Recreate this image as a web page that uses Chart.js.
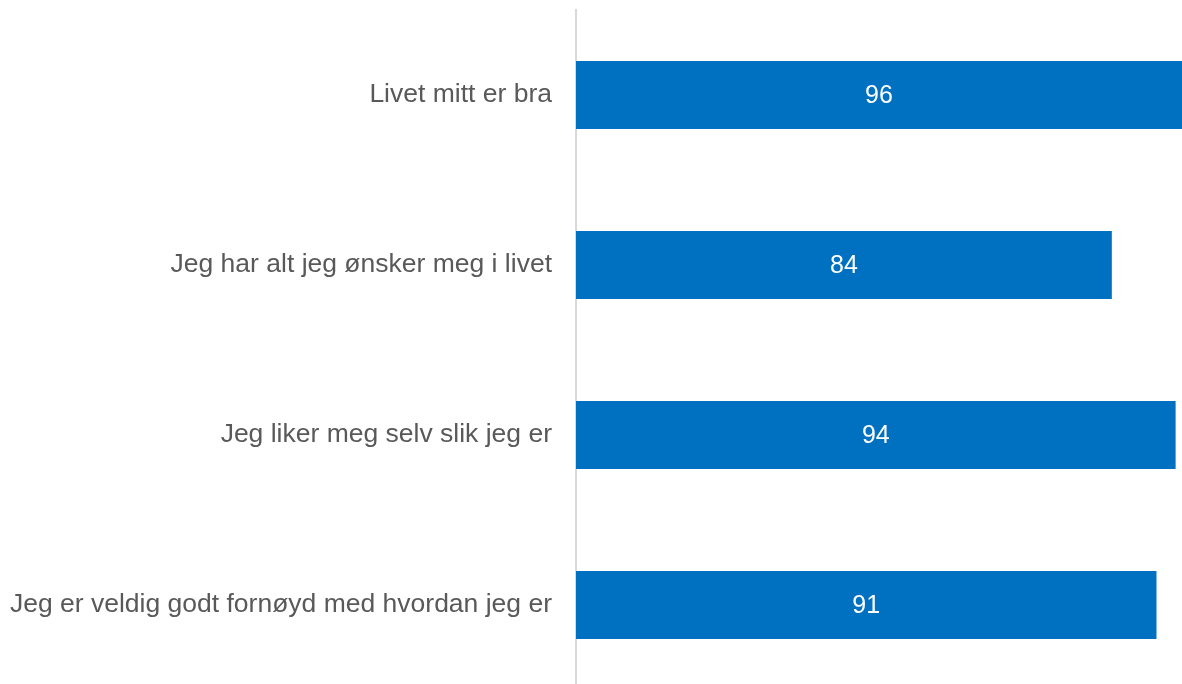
<!DOCTYPE html>
<html>
<head>
<meta charset="utf-8">
<script src="https://cdn.jsdelivr.net/npm/chart.js@4.4.1/dist/chart.umd.min.js"></script>
<style>
  html, body { margin: 0; padding: 0; background: #fff; overflow: hidden; }
  canvas { display: block; }
</style>
</head>
<body>
<canvas id="chart" width="1182" height="690"></canvas>
<script>
const categories = [
  "Livet mitt er bra",
  "Jeg har alt jeg ønsker meg i livet",
  "Jeg liker meg selv slik jeg er",
  "Jeg er veldig godt fornøyd med hvordan jeg er"
];
const values = [96, 84, 94, 91];

// white value labels in the middle of each (visible) bar
const valueLabels = {
  id: "valueLabels",
  afterDatasetsDraw(chart) {
    const { ctx, chartArea } = chart;
    const meta = chart.getDatasetMeta(0);
    ctx.save();
    ctx.fillStyle = "#ffffff";
    ctx.font = "25px 'Liberation Sans', Arial, sans-serif";
    ctx.textAlign = "center";
    ctx.textBaseline = "middle";
    meta.data.forEach((bar, i) => {
      const right = Math.min(bar.x, chartArea.right);
      const left = Math.max(bar.base, chartArea.left);
      ctx.fillText(String(values[i]), (left + right) / 2, bar.y + 1);
    });
    ctx.restore();
  }
};

new Chart(document.getElementById("chart"), {
  type: "bar",
  data: {
    labels: categories,
    datasets: [{
      data: values,
      backgroundColor: "#0070C0",
      borderWidth: 0,
      barPercentage: 0.4,
      categoryPercentage: 1
    }]
  },
  options: {
    indexAxis: "y",
    responsive: false,
    animation: false,
    layout: { padding: { top: 10, right: 0, bottom: 0, left: 10 } },
    plugins: { legend: { display: false }, tooltip: { enabled: false } },
    scales: {
      x: {
        display: false,
        min: 0,
        max: 95
      },
      y: {
        grid: { display: false, drawTicks: false },
        border: { display: true, color: "#d9d9d9", width: 2 },
        ticks: {
          padding: 24,
          color: "#595959",
          font: { family: "'Liberation Sans', Arial, sans-serif", size: 26.5 }
        },
        afterFit(scale) {
          // fixed label column, no extra vertical padding
          scale.width = 566;
          scale.paddingTop = 0;
          scale.paddingBottom = 0;
        }
      }
    }
  },
  plugins: [valueLabels]
});
</script>
</body>
</html>
